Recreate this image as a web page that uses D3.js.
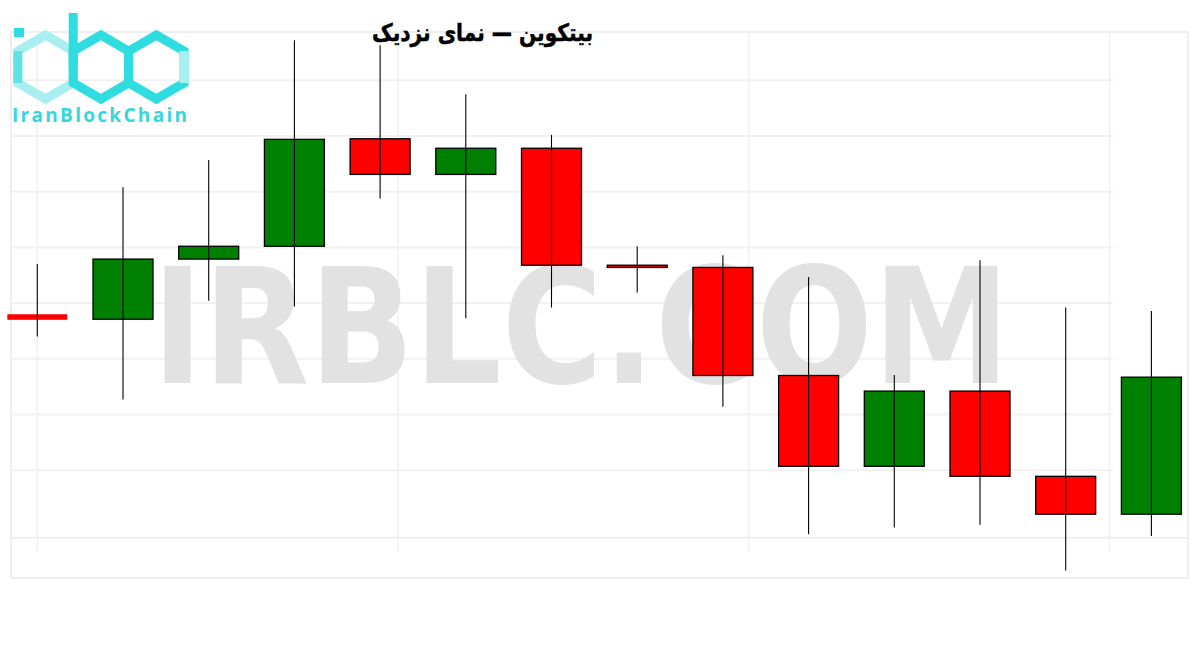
<!DOCTYPE html>
<html>
<head>
<meta charset="utf-8">
<script src="https://cdn.jsdelivr.net/npm/d3@7/dist/d3.min.js"></script>
<style>
  body { margin: 0; background: #fff; }
</style>
</head>
<body>
<svg width="1200" height="650"></svg>
<script>
// candle data
var days   = ["d1","d2","d3","d4","d5","d6","d7","d8","d9","d10","d11","d12","d13","d14"];
var opens  = [27580, 27571, 27679, 27702, 27895, 27831, 27878, 27668, 27664, 27470, 27307, 27442, 27289, 27221];
var highs  = [27670, 27808, 27857, 28072, 28063, 27975, 27902, 27702, 27686, 27647, 27471, 27677, 27592, 27586];
var lows   = [27540, 27427, 27604, 27594, 27788, 27573, 27592, 27619, 27414, 27185, 27197, 27202, 27120, 27182];
var closes = [27570, 27679, 27702, 27894, 27831, 27878, 27668, 27664, 27470, 27307, 27442, 27289, 27221, 27467];

// grid
var gridPrices = [27300, 27400, 27500, 27600, 27700, 27800, 27900, 28000];
var gridSteps  = [0, 4.21, 8.3, 12.51];

var title = "بیتکوین — نمای نزدیک";
var watermark = "IRBLC.COM";
var logoText = "IranBlockChain";

var svg = d3.select("svg"),
    width = +svg.attr("width"),
    height = +svg.attr("height");

var frame = {left: 11, right: 1188, top: 32, bottom: 578, axis: 537.7};

var x = d3.scaleBand()
    .domain(days)
    .range([-18.4, 1207.1])
    .padding(0.3);

var xi = d3.scaleLinear()
    .domain([0, days.length - 1])
    .range([x(days[0]) + x.bandwidth() / 2, x(days[days.length - 1]) + x.bandwidth() / 2]);

var y = d3.scaleLinear()
    .domain([27178.8, 28086.7])
    .range([frame.axis, frame.top]);

// frame + grid
var grid = svg.append("g").attr("class", "grid");

grid.append("rect")
    .attr("x", frame.left)
    .attr("y", frame.top)
    .attr("width", frame.right - frame.left)
    .attr("height", frame.bottom - frame.top)
    .attr("fill", "none")
    .attr("stroke", "#eeeeee")
    .attr("stroke-width", 2);

grid.selectAll("line.h")
    .data(gridPrices)
    .enter().append("line")
    .attr("class", "h")
    .attr("x1", frame.left)
    .attr("x2", 1113)
    .attr("y1", function(d) { return y(d); })
    .attr("y2", function(d) { return y(d); })
    .attr("stroke", "#f1f1f1")
    .attr("stroke-width", 2);

grid.append("line")
    .attr("x1", frame.left)
    .attr("x2", frame.right)
    .attr("y1", frame.axis)
    .attr("y2", frame.axis)
    .attr("stroke", "#eeeeee")
    .attr("stroke-width", 2);

grid.selectAll("line.v")
    .data(gridSteps)
    .enter().append("line")
    .attr("class", "v")
    .attr("x1", function(d) { return xi(d); })
    .attr("x2", function(d) { return xi(d); })
    .attr("y1", frame.top)
    .attr("y2", 552)
    .attr("stroke", "#f1f1f1")
    .attr("stroke-width", 1.5);

// watermark
svg.append("text")
    .attr("x", 152)
    .attr("y", 383)
    .attr("font-family", "DejaVu Sans")
    .attr("font-weight", "bold")
    .attr("font-size", 160)
    .attr("textLength", 858)
    .attr("lengthAdjust", "spacingAndGlyphs")
    .attr("fill", "#e2e2e2")
    .text(watermark);

// candles
var candles = svg.append("g")
    .selectAll("g")
    .data(days)
    .enter().append("g");

candles.append("rect")
    .attr("x", function(d) { return x(d); })
    .attr("width", x.bandwidth())
    .attr("y", function(d, i) { return y(Math.max(opens[i], closes[i])); })
    .attr("height", function(d, i) { return Math.abs(y(opens[i]) - y(closes[i])); })
    .attr("fill", function(d, i) { return closes[i] >= opens[i] ? "#008000" : "#ff0000"; })
    // the first body has no outline in the picture
    .attr("stroke", function(d, i) { return i === 0 ? "none" : "#000"; })
    .attr("stroke-width", 1.3);

candles.append("line")
    .attr("x1", function(d) { return x(d) + x.bandwidth() / 2; })
    .attr("x2", function(d) { return x(d) + x.bandwidth() / 2; })
    .attr("y1", function(d, i) { return y(highs[i]); })
    .attr("y2", function(d, i) { return y(lows[i]); })
    .attr("stroke", "#000")
    .attr("stroke-width", 1.1);

// title
svg.append("text")
    .attr("x", 372)
    .attr("y", 41)
    .attr("font-family", "DejaVu Sans")
    .attr("font-weight", "bold")
    .attr("font-size", 24)
    .attr("textLength", 221)
    .attr("lengthAdjust", "spacingAndGlyphs")
    .attr("fill", "#000")
    .attr("stroke", "#000")
    .attr("stroke-width", 0.5)
    .text(title);

// logo
function hex(cx, cy, r) {
    return d3.range(6).map(function(k) {
        var a = (k * 60 - 90) * Math.PI / 180;
        return [cx + r * Math.cos(a), cy + r * Math.sin(a)];
    });
}
var logo = svg.append("g").attr("class", "logo");
var hr = 32, hw = Math.sqrt(3) * hr, hy = 67;
var hexCenters = [45.5, 45.5 + hw, 45.5 + 2 * hw];
var hexColors = ["#a9eff1", "#2fdde0", "#2fdde0"];

logo.selectAll("polygon")
    .data(hexCenters)
    .enter().append("polygon")
    .attr("points", function(d) { return hex(d, hy, hr).join(" "); })
    .attr("fill", "none")
    .attr("stroke", function(d, i) { return hexColors[i]; })
    .attr("stroke-width", 9);

// i stem, i dot, b ascender, light side of c
logo.append("line")
    .attr("x1", hexCenters[0] - hw / 2).attr("x2", hexCenters[0] - hw / 2)
    .attr("y1", hy - hr / 2).attr("y2", hy + hr / 2)
    .attr("stroke", "#5fe3e6").attr("stroke-width", 9);
logo.append("rect")
    .attr("x", 14).attr("y", 28).attr("width", 10).attr("height", 9)
    .attr("fill", "#2fdde0");
logo.append("line")
    .attr("x1", hexCenters[1] - hw / 2).attr("x2", hexCenters[1] - hw / 2)
    .attr("y1", 13).attr("y2", hy)
    .attr("stroke", "#2fdde0").attr("stroke-width", 9);
logo.append("line")
    .attr("x1", hexCenters[2] + hw / 2).attr("x2", hexCenters[2] + hw / 2)
    .attr("y1", hy - hr / 2).attr("y2", hy + hr / 2)
    .attr("stroke", "#a9eff1").attr("stroke-width", 9);

logo.append("text")
    .attr("x", 12)
    .attr("y", 122)
    .attr("font-family", "Open Sans")
    .attr("font-weight", "bold")
    .attr("font-size", 19)
    .attr("textLength", 175)
    .attr("lengthAdjust", "spacing")
    .attr("fill", "#33d7dd")
    .text(logoText);
</script>
</body>
</html>
